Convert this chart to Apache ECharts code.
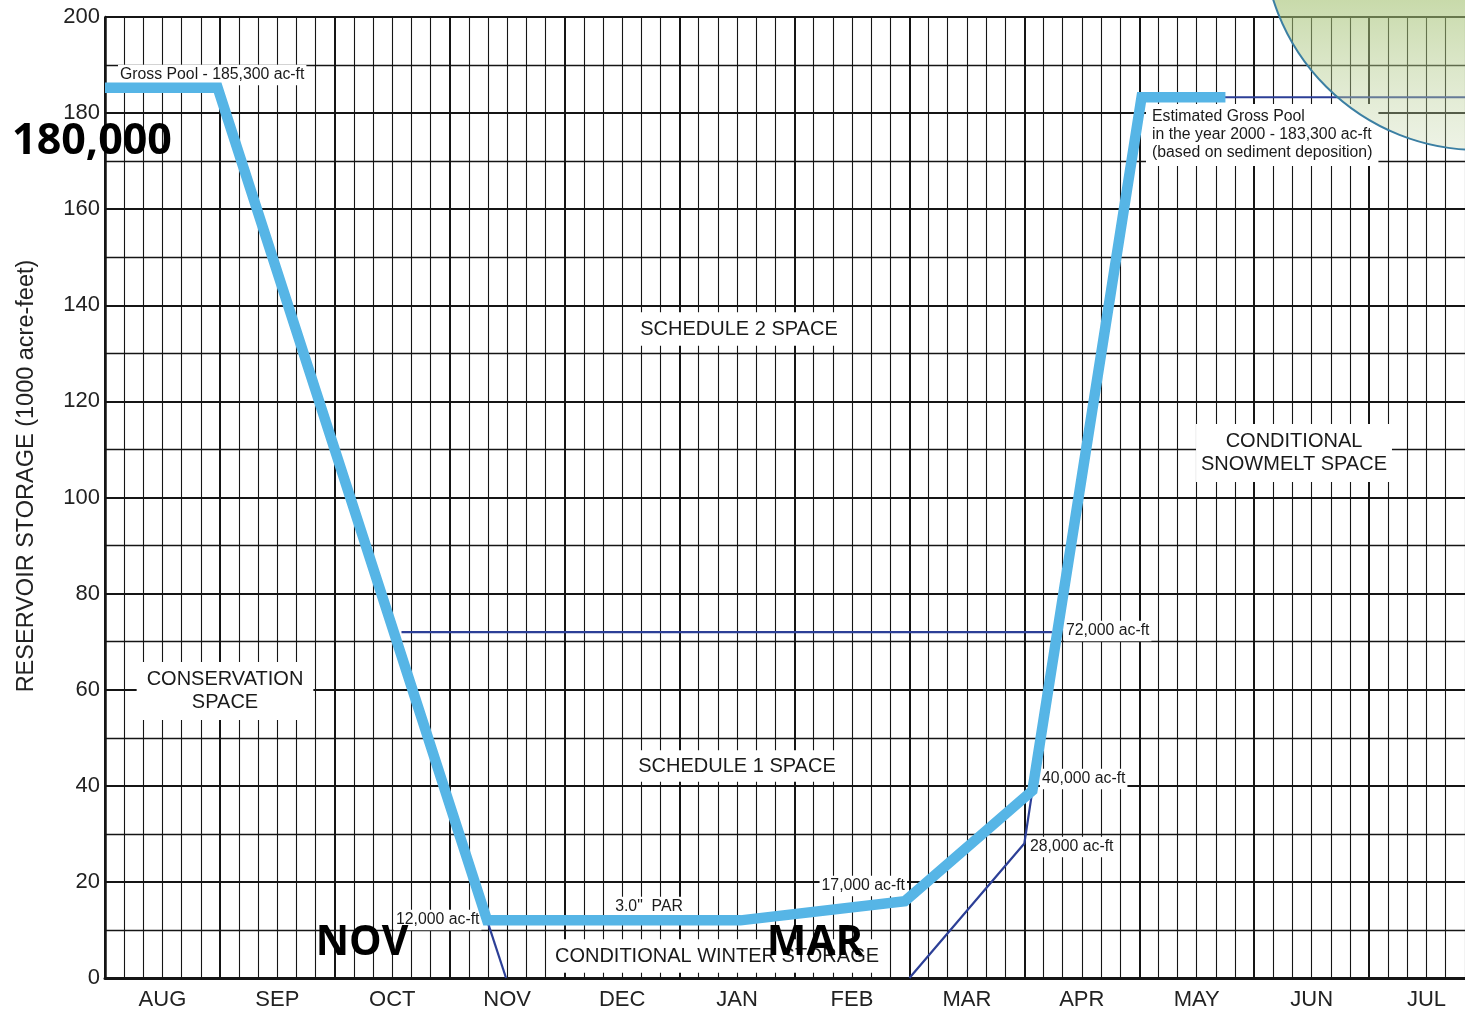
<!DOCTYPE html>
<html>
<head>
<meta charset="utf-8">
<script src="https://cdn.jsdelivr.net/npm/echarts@6/dist/echarts.min.js"></script>
<style>
html,body{margin:0;padding:0;background:#fff;overflow:hidden;}
#chart{width:1484px;height:1014px;}
</style>
</head>
<body>
<div id="chart"></div>
<script>
// Month categories (x axis runs Aug 1 -> Jul 31, in month units)
const months = ['AUG','SEP','OCT','NOV','DEC','JAN','FEB','MAR','APR','MAY','JUN','JUL'];

// Flood-control rule curve (thick light-blue line), x in months from Aug 1, y in 1000 acre-feet
const ruleX = [0, 0.98, 3.325, 5.53, 6.96, 8.07, 9.02, 9.75];
const ruleY = [185.3, 185.3, 12, 12, 16, 39, 183.3, 183.3];

// Thin dark-blue lines
const line72X = [2.58, 8.24];
const line72Y = [72, 72];
const novDropX = [3.325, 3.49];
const novDropY = [12, 0];
const marRiseX = [7.0, 8.0, 8.07];
const marRiseY = [0, 28, 39];
const poolX = [9.02, 12];
const poolY = [183.3, 183.3];

const pairs = (xs, ys) => xs.map((x, i) => [x, ys[i]]);

const chart = echarts.init(document.getElementById('chart'));
const INK = '#151515';
const THIN = '#2c3f97';
const LF = '"Liberation Sans", Arial, sans-serif';

function box(text, x, y, size, opts) {
  opts = opts || {};
  return {
    type: 'text', x: x, y: y, z: 1,
    style: {
      text: text,
      font: (opts.weight || 'normal') + ' ' + size + 'px ' + LF,
      fill: '#1a1a1a',
      align: opts.align || 'center',
      verticalAlign: 'middle',
      lineHeight: opts.lineHeight || size * 1.18,
      backgroundColor: '#fff',
      padding: opts.padding || [3, 6]
    }
  };
}
function big(text, x, y, size) {
  return {
    type: 'text', x: x, y: y, z: 20,
    style: {
      text: text,
      font: 'bold ' + size + 'px "Open Sans", "Noto Sans", sans-serif',
      fill: '#000',
      align: 'center',
      verticalAlign: 'middle'
    }
  };
}

const option = {
  backgroundColor: '#fff',
  animation: false,
  grid: { left: 105, top: 17, right: 0, bottom: 36, containLabel: false },
  xAxis: [
    {
      type: 'value', min: 0, max: 12, interval: 1,
      axisLine: { show: true, onZero: false, lineStyle: { color: INK, width: 3 } },
      axisTick: { show: false },
      axisLabel: { show: false },
      splitLine: { show: true, lineStyle: { color: INK, width: 2 } },
      minorTick: { show: false, splitNumber: 6 },
      minorSplitLine: { show: true, lineStyle: { color: INK, width: 1.1 } }
    },
    {
      type: 'category', data: months, boundaryGap: true, position: 'bottom',
      axisLine: { show: false }, axisTick: { show: false }, splitLine: { show: false },
      axisLabel: { fontFamily: LF, fontSize: 22, color: '#222', margin: 11 }
    }
  ],
  yAxis: {
    type: 'value', min: 0, max: 200, interval: 20,
    axisLine: { show: true, onZero: false, lineStyle: { color: INK, width: 2.5 } },
    axisTick: { show: false },
    axisLabel: { fontFamily: LF, fontSize: 22, color: '#222', margin: 5 },
    splitLine: { show: true, lineStyle: { color: INK, width: 2 } },
    minorTick: { show: false, splitNumber: 2 },
    minorSplitLine: { show: true, lineStyle: { color: INK, width: 1.4 } }
  },
  series: [
    { type: 'line', xAxisIndex: 0, data: pairs(line72X, line72Y), showSymbol: false, z: 3,
      lineStyle: { color: THIN, width: 2.2 } },
    { type: 'line', xAxisIndex: 0, data: pairs(novDropX, novDropY), showSymbol: false, z: 3,
      lineStyle: { color: THIN, width: 2.2 } },
    { type: 'line', xAxisIndex: 0, data: pairs(marRiseX, marRiseY), showSymbol: false, z: 3,
      lineStyle: { color: THIN, width: 2.2 } },
    { type: 'line', xAxisIndex: 0, data: pairs(poolX, poolY), showSymbol: false, z: 3,
      lineStyle: { color: THIN, width: 2.2 } },
    { type: 'line', xAxisIndex: 0, data: pairs(ruleX, ruleY), showSymbol: false, z: 4,
      lineStyle: { color: '#56b5e6', width: 10.5, cap: 'butt', join: 'miter' } }
  ],
  graphic: [
    // y axis title
    { type: 'text', x: 27, y: 476, rotation: Math.PI / 2, z: 1,
      style: { text: 'RESERVOIR STORAGE (1000 acre-feet)', font: '23.5px ' + LF, fill: '#222',
               align: 'center', verticalAlign: 'middle' } },
    // region labels
    box('CONSERVATION\nSPACE', 225, 691, 20, { padding: [6, 10], lineHeight: 23 }),
    box('SCHEDULE 2 SPACE', 739, 329, 20, { padding: [5, 7] }),
    box('SCHEDULE 1 SPACE', 737, 766, 20, { padding: [4, 5] }),
    box('CONDITIONAL\nSNOWMELT SPACE', 1294, 453, 20, { padding: [6, 5], lineHeight: 23 }),
    box('CONDITIONAL WINTER STORAGE', 717, 956, 20, { padding: [5, 7] }),
    // value notes
    box('Gross Pool - 185,300 ac-ft', 118, 75, 15.8, { align: 'left', padding: [1, 2] }),
    box('Estimated Gross Pool\nin the year 2000 - 183,300 ac-ft\n(based on sediment deposition)', 1146, 135, 15.8,
        { align: 'left', padding: [4, 6], lineHeight: 18 }),
    box('72,000 ac-ft', 1064, 631, 15.8, { align: 'left', padding: [1, 2] }),
    box('40,000 ac-ft', 1040, 779, 15.8, { align: 'left', padding: [1, 2] }),
    box('28,000 ac-ft', 1028, 847, 15.8, { align: 'left', padding: [1, 2] }),
    box('17,000 ac-ft', 907, 886, 15.8, { align: 'right', padding: [1, 2] }),
    box('12,000 ac-ft', 394, 920, 15.8, { align: 'left', padding: [1, 2] }),
    box('3.0"  PAR', 649, 907, 15.8, { padding: [1, 2] }),
    // decorative callout circle (top right)
    { type: 'circle', z: 10,
      shape: { cx: 1479, cy: -66, r: 216 },
      style: {
        fill: { type: 'linear', x: 0, y: 0, x2: 0, y2: 1, colorStops: [
          { offset: 0, color: 'rgba(150,185,100,0.65)' },
          { offset: 0.65, color: 'rgba(163,193,113,0.6)' },
          { offset: 1, color: 'rgba(198,215,172,0.3)' } ] },
        stroke: '#3b7fa3', lineWidth: 2
      } },
    // bold overlay callouts
    big('180,000', 92, 142, 43),
    big('NOV', 362, 943, 41),
    big('MAR', 815, 943, 42)
  ]
};
chart.setOption(option);
</script>
</body>
</html>
